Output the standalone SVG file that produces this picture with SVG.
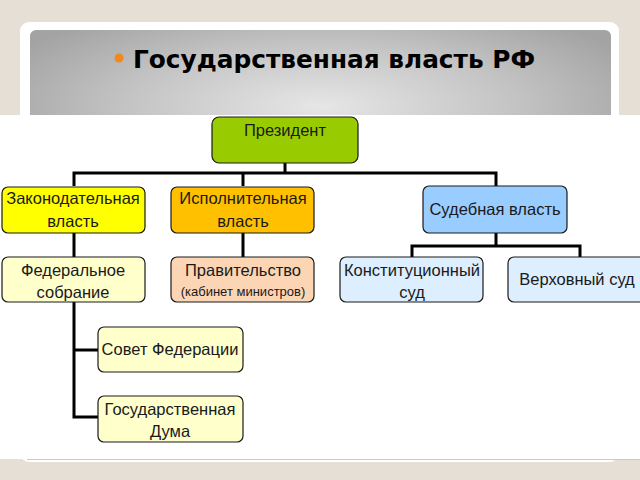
<svg xmlns="http://www.w3.org/2000/svg" width="640" height="480" viewBox="0 0 640 480">
<defs>
<radialGradient id="hdr" cx="0.5" cy="0.9" r="0.6" gradientTransform="translate(0.5 0.9) scale(1 2.2) translate(-0.5 -0.9)">
<stop offset="0" stop-color="#e6e6e6"/>
<stop offset="0.55" stop-color="#c4c4c4"/>
<stop offset="1" stop-color="#a3a3a3"/>
</radialGradient>
<style>
.box{stroke:#1a1a1a;stroke-width:1.2}
.t{font-family:"Liberation Sans","Open Sans",sans-serif;font-size:16.5px;fill:#1a1a1a;text-anchor:middle}
.s{font-size:13px}
.c{fill:none;stroke:#000;stroke-width:3}
</style>
</defs>
<rect x="0" y="0" width="640" height="480" fill="#e5dfd5"/>
<rect x="20" y="22" width="599" height="440" rx="9" fill="#ffffff"/>
<path d="M30 115 V36 a6 6 0 0 1 6 -6 H605 a6 6 0 0 1 6 6 V115 Z" fill="url(#hdr)"/>
<circle cx="119" cy="58" r="4.5" fill="#f08a1c"/>
<text x="133" y="68" font-family="'DejaVu Sans',Verdana,sans-serif" font-weight="bold" font-size="24" fill="#000" textLength="402" lengthAdjust="spacingAndGlyphs">Государственная власть РФ</text>
<rect x="0" y="115" width="640" height="344" fill="#ffffff"/>
<line x1="27" y1="459.5" x2="640" y2="459.5" stroke="#cfc9bf" stroke-width="1"/>
<g id="connectors">
<path class="c" d="M285 163 V173 M74 186 V173 H496 V186 M243 173 V186"/>
<path class="c" d="M74 233 V257 M243 233 V257"/>
<path class="c" d="M496 233 V246 M412 257 V246 H580 V257"/>
<path class="c" d="M74 302 V417 H98 M74 350 H98"/>
</g>
<g id="president">
<rect class="box" x="212" y="117" width="146" height="46" rx="7" fill="#99cc00"/>
<text class="t" x="285" y="136">Президент</text>
</g>
<g id="legislative">
<rect class="box" x="2" y="187" width="143" height="46" rx="6" fill="#ffff00"/>
<text class="t" x="73" y="204">Законодательная</text>
<text class="t" x="73" y="227">власть</text>
</g>
<g id="executive">
<rect class="box" x="171" y="187" width="143" height="46" rx="6" fill="#ffc000"/>
<text class="t" x="243" y="204">Исполнительная</text>
<text class="t" x="243" y="227">власть</text>
</g>
<g id="judicial">
<rect class="box" x="423" y="186" width="144" height="47" rx="6" fill="#99ccff"/>
<text class="t" x="495" y="215">Судебная власть</text>
</g>
<g id="federal-assembly">
<rect class="box" x="2" y="257" width="143" height="45" rx="6" fill="#ffffcc"/>
<text class="t" x="73" y="276">Федеральное</text>
<text class="t" x="73" y="298">собрание</text>
</g>
<g id="government">
<rect class="box" x="171" y="257" width="143" height="45" rx="6" fill="#fcd5b4"/>
<text class="t" x="243" y="276">Правительство</text>
<text class="t s" x="243" y="296">(кабинет министров)</text>
</g>
<g id="constitutional-court">
<rect class="box" x="340" y="257" width="143" height="45" rx="6" fill="#ddeeff"/>
<text class="t" x="412" y="276">Конституционный</text>
<text class="t" x="412" y="298">суд</text>
</g>
<g id="supreme-court">
<rect class="box" x="508" y="257" width="140" height="45" rx="6" fill="#ddeeff"/>
<text class="t" x="577" y="285">Верховный суд</text>
</g>
<g id="federation-council">
<rect class="box" x="98" y="327" width="145" height="45" rx="6" fill="#ffffcc"/>
<text class="t" x="170" y="355">Совет Федерации</text>
</g>
<g id="state-duma">
<rect class="box" x="98" y="396" width="145" height="46" rx="6" fill="#ffffcc"/>
<text class="t" x="170" y="415">Государственная</text>
<text class="t" x="170" y="437">Дума</text>
</g>
</svg>
